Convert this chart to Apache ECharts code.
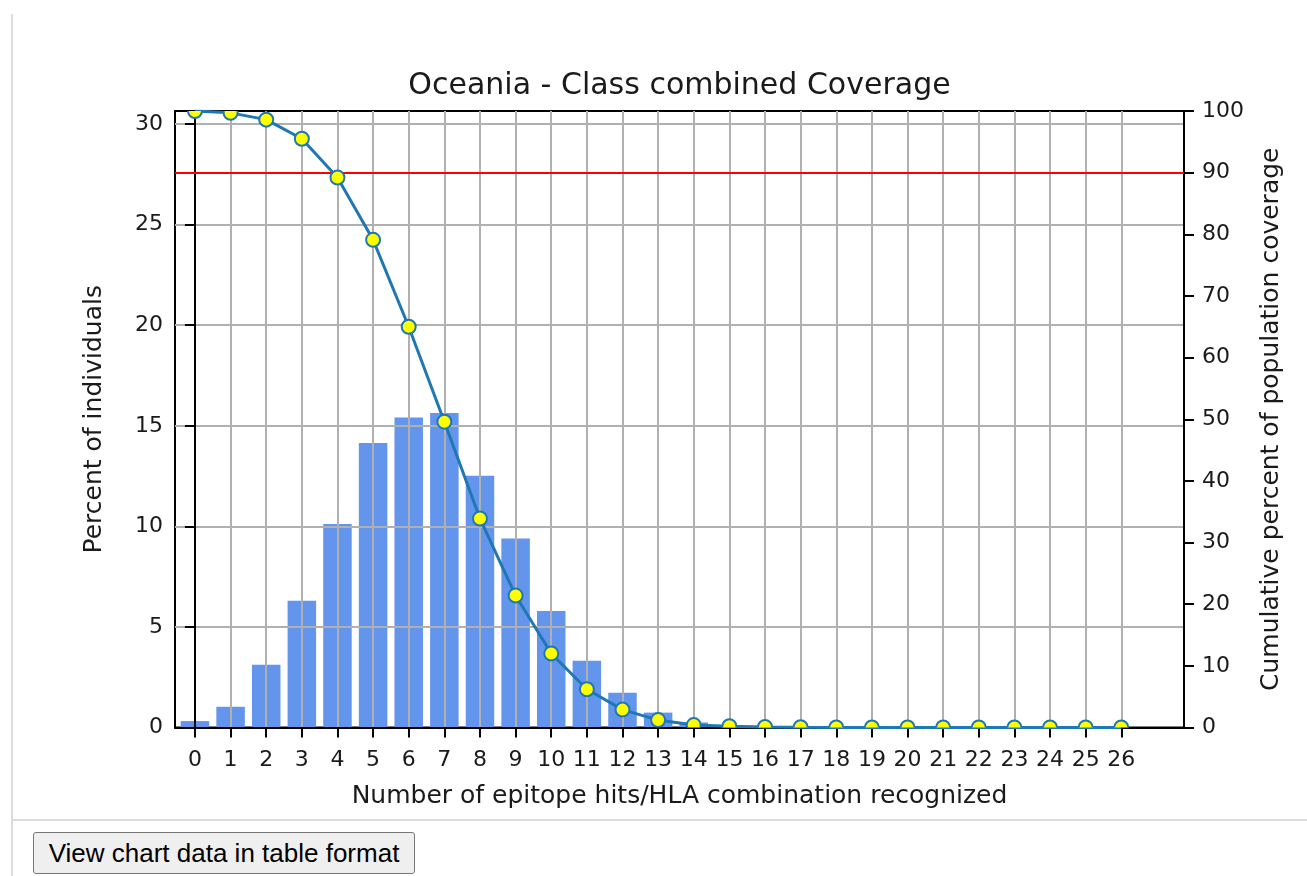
<!DOCTYPE html>
<html>
<head>
<meta charset="utf-8">
<title>Oceania - Class combined Coverage</title>
<script src="https://cdn.jsdelivr.net/npm/echarts@6/dist/echarts.min.js"></script>
<style>
  body { margin: 0; background: #fff; }
  .page { position: relative; width: 1307px; height: 876px; overflow: hidden; }
  #chart { position: absolute; left: 0; top: 0; width: 1307px; height: 876px; }
  .vline { position: absolute; left: 11px; top: 14px; width: 2px; height: 862px; background: #dcdcdc; }
  .hline { position: absolute; left: 12px; top: 819px; width: 1295px; height: 2px; background: #dcdcdc; }
  .btn {
    position: absolute; left: 33px; top: 832px; width: 382px; height: 42px;
    font-family: "Liberation Sans", Arial, sans-serif; font-size: 26px; color: #000;
    background: #efefef; border: 1px solid #767676; border-radius: 3px; padding: 0;
  }
</style>
</head>
<body>
<div class="page">
  <div class="vline"></div>
  <div class="hline"></div>
  <div id="chart"></div>
  <button class="btn">View chart data in table format</button>
</div>
<script>
// number of epitope hits per HLA combination
var hits = [0, 1, 2, 3, 4, 5, 6, 7, 8, 9, 10, 11, 12, 13, 14, 15, 16, 17, 18, 19, 20, 21, 22, 23, 24, 25, 26]
// percent of individuals (bars, left axis)
var percentIndividuals = [0.32, 1.03, 3.12, 6.30, 10.12, 14.14, 15.41, 15.63, 12.52, 9.40, 5.79, 3.32, 1.73, 0.74, 0.25, 0.10, 0.05, 0.02, 0.01, 0, 0, 0, 0, 0, 0, 0, 0]
// cumulative percent of population coverage (line, right axis)
var cumulativeCoverage = [100, 99.7, 98.6, 95.5, 89.2, 79.1, 65.0, 49.6, 33.9, 21.4, 12.0, 6.2, 2.9, 1.2, 0.4, 0.2, 0.1, 0.05, 0.01, 0, 0, 0, 0, 0, 0, 0, 0]
var leftTicks = [0, 5, 10, 15, 20, 25, 30]
var rightTicks = [0, 10, 20, 30, 40, 50, 60, 70, 80, 90, 100]
var threshold = 90

var font = 'DejaVu Sans'
var textColor = '#1a1a1a'
var lineColor = '#1f77b4'

var barData = hits.map(function(h, i) { return [h, percentIndividuals[i]] })
var lineData = hits.map(function(h, i) { return [h, cumulativeCoverage[i]] })

var chart = echarts.init(document.getElementById('chart'))
var option = {
  animation: false,
  title: {
    text: 'Oceania - Class combined Coverage',
    left: 679.5,
    top: 71.5,
    padding: 0,
    textAlign: 'center',
    textStyle: { fontFamily: font, fontSize: 30, fontWeight: 'normal', color: textColor }
  },
  grid: {
    left: 175,
    right: 123,
    top: 111,
    bottom: 148.5,
    show: true,
    borderColor: '#000',
    borderWidth: 2,
    backgroundColor: 'transparent'
  },
  xAxis: {
    type: 'value',
    min: -0.56,
    max: 27.76,
    z: 3,
    name: 'Number of epitope hits/HLA combination recognized',
    nameLocation: 'middle',
    nameGap: 56,
    nameTextStyle: { fontFamily: font, fontSize: 25, color: textColor },
    axisLine: { show: true, onZero: false, lineStyle: { color: '#000', width: 2 } },
    axisTick: { show: true, length: 10, customValues: hits, lineStyle: { color: '#000', width: 2 } },
    axisLabel: { customValues: hits, margin: 22, fontFamily: font, fontSize: 22, color: textColor },
    splitLine: { show: true, lineStyle: { color: '#b0b0b0', width: 2 } }
  },
  yAxis: [
    {
      type: 'value',
      min: 0,
      max: 30.65,
      z: 3,
      position: 'left',
      name: 'Percent of individuals',
      nameLocation: 'middle',
      nameGap: 68,
      nameTextStyle: { fontFamily: font, fontSize: 25, color: textColor },
      axisLine: { show: true, lineStyle: { color: '#000', width: 2 } },
      axisTick: { show: true, length: 10, customValues: leftTicks, lineStyle: { color: '#000', width: 2 } },
      axisLabel: { customValues: leftTicks, margin: 12, fontFamily: font, fontSize: 22, color: textColor },
      splitLine: { show: true, lineStyle: { color: '#b0b0b0', width: 2 } }
    },
    {
      type: 'value',
      min: 0,
      max: 100,
      interval: 10,
      z: 3,
      position: 'right',
      name: 'Cumulative percent of population coverage',
      nameLocation: 'middle',
      nameGap: 75,
      nameTextStyle: { fontFamily: font, fontSize: 25, color: textColor },
      axisLine: { show: true, lineStyle: { color: '#000', width: 2 } },
      axisTick: { show: true, length: 10, customValues: rightTicks, lineStyle: { color: '#000', width: 2 } },
      axisLabel: { customValues: rightTicks, margin: 18, fontFamily: font, fontSize: 22, color: textColor },
      splitLine: { show: false }
    }
  ],
  series: [
    {
      type: 'bar',
      name: 'Percent of individuals',
      yAxisIndex: 0,
      z: 1,
      barWidth: '80%',
      data: barData,
      itemStyle: { color: '#6495ed' }
    },
    {
      type: 'line',
      name: 'Cumulative coverage',
      yAxisIndex: 1,
      z: 5,
      showSymbol: false,
      clip: true,
      data: lineData,
      lineStyle: { color: lineColor, width: 3 },
      markLine: {
        silent: true,
        symbol: 'none',
        label: { show: false },
        lineStyle: { color: '#ff0000', type: 'solid', width: 2 },
        data: [{ yAxis: threshold }]
      }
    },
    {
      // markers drawn as custom circles so they get cut at the plot edge like the original
      type: 'custom',
      name: 'Cumulative coverage points',
      yAxisIndex: 1,
      z: 6,
      clip: true,
      data: lineData,
      encode: { x: 0, y: 1 },
      renderItem: function(params, api) {
        var p = api.coord([api.value(0), api.value(1)])
        return {
          type: 'circle',
          shape: { cx: p[0], cy: p[1], r: 7 },
          style: { fill: '#ffff00', stroke: lineColor, lineWidth: 2 }
        }
      }
    }
  ]
}
chart.setOption(option)
</script>
</body>
</html>
